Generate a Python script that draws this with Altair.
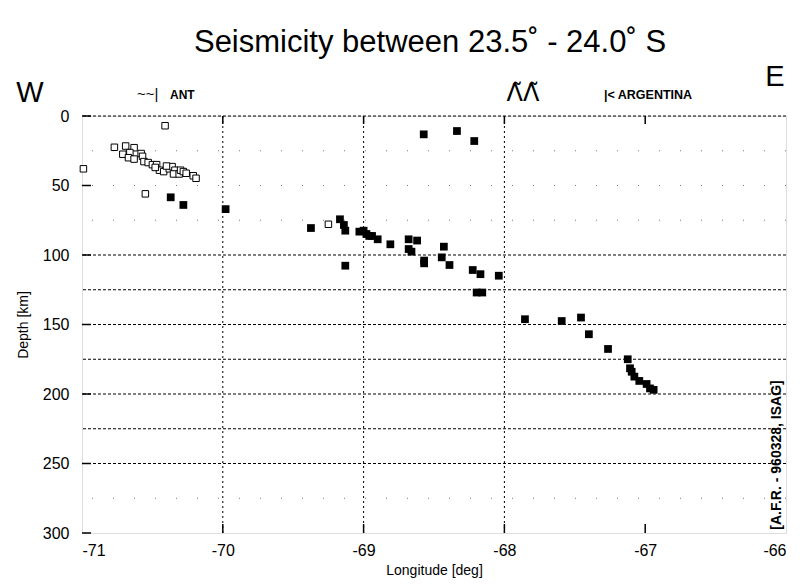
import altair as alt
import pandas as pd

# ---- data ----
open_lon = [-70.41, -70.77, -70.69, -70.63, -70.71, -70.66, -70.67, -70.63, -70.58, -70.57,
            -70.56, -70.53, -70.50, -70.47, -70.45, -70.42, -70.38, -70.36, -70.34, -70.35,
            -70.31, -70.30, -70.28, -70.26, -70.21, -70.19, -70.99, -70.55, -69.25, -70.48,
            -70.40]
open_depth = [7, 22.5, 21.6, 22.8, 27.5, 26.3, 30, 31, 27, 29,
              32.8, 33.5, 35, 35, 39, 40, 38, 36.4, 39, 41.7,
              41.7, 39, 40, 41.2, 43, 44.8, 38, 56, 77.9, 37,
              36]

filled_lon = [-70.37, -70.28, -69.98, -68.573, -68.337, -68.214, -69.374, -69.168, -69.14, -69.13,
              -69.13, -69.03, -69.00, -68.98, -68.96, -68.94, -68.90, -68.81, -68.68, -68.62,
              -68.68, -68.66, -68.57, -68.57, -68.43, -68.445, -68.39, -68.225, -68.17, -68.04,
              -68.197, -68.157, -67.854, -67.593, -67.456, -67.40, -67.264, -67.124, -67.108, -67.096,
              -67.077, -67.042, -66.99, -66.966, -66.94]
filled_depth = [58.5, 64, 67, 13.2, 10.8, 18, 80.6, 74.3, 78.4, 82.5,
                107.7, 83.2, 82.5, 84.9, 86.3, 86.3, 88.7, 92.3, 88.7, 89.6,
                95.7, 97.6, 104, 106, 94, 101.7, 107.2, 110.8, 113.8, 114.9,
                127, 127, 146.2, 147.5, 145, 157, 167.6, 175, 181.5, 184,
                187.5, 190.6, 192.8, 196, 197]

x_ticks = [-71, -70, -69, -68, -67, -66]
y_ticks = [0, 50, 100, 150, 200, 250, 300]
grid_full = [0, 100, 125, 150, 175, 200, 225, 250]
grid_sparse = [25, 50, 75, 275]
grid_vert = [-70, -69, -68]
inner_xticks = [-70, -69, -68, -67]

W, H = 704, 417
FONT = "Liberation Sans"

xs = alt.Scale(domain=[-71, -66], nice=False, zero=False)
ys = alt.Scale(domain=[0, 300], reverse=True, nice=False)

open_df = pd.DataFrame({"lon": open_lon, "depth": open_depth})
filled_df = pd.DataFrame({"lon": filled_lon, "depth": filled_depth})

base_x = alt.X("lon:Q", scale=xs, title="Longitude [deg]",
               axis=alt.Axis(values=x_ticks, labelExpr="datum.value + ''", grid=False,
                             ticks=False, domain=False, labelFontSize=16, labelPadding=9,
                             titleFontSize=14, titlePadding=5, titleFontWeight="normal",
                             labelFont=FONT, titleFont=FONT, labelColor="black", titleColor="black"))
base_y = alt.Y("depth:Q", scale=ys, title="Depth [km]",
               axis=alt.Axis(values=y_ticks, grid=False, ticks=False, domain=False,
                             labelFontSize=16, labelPadding=13, titleFontSize=14,
                             titlePadding=12, titleFontWeight="normal",
                             labelFont=FONT, titleFont=FONT, labelColor="black", titleColor="black"))

filled = alt.Chart(filled_df).mark_point(shape="square", filled=True, color="black",
                                         size=60, opacity=1).encode(x=base_x, y=base_y)
opened = alt.Chart(open_df).mark_point(shape="square", filled=True, fill="white",
                                       stroke="black", strokeWidth=1, size=42,
                                       opacity=1).encode(x=base_x, y=base_y)

gfull = alt.Chart(pd.DataFrame({"d": grid_full})).mark_rule(
    color="black", strokeWidth=1, strokeDash=[3, 2]).encode(
    y=alt.Y("d:Q", scale=ys))
gsparse = alt.Chart(pd.DataFrame({"d": grid_sparse})).mark_rule(
    color="#777", strokeWidth=1, strokeDash=[1, 20]).encode(
    y=alt.Y("d:Q", scale=ys))
gvert = alt.Chart(pd.DataFrame({"v": grid_vert})).mark_rule(
    color="black", strokeWidth=1, strokeDash=[2, 3]).encode(
    x=alt.X("v:Q", scale=xs))
ytick = alt.Chart(pd.DataFrame({"d": y_ticks})).mark_rule(
    color="black", strokeWidth=1.5).encode(
    y=alt.Y("d:Q", scale=ys), x=alt.value(0), x2=alt.value(9))
xtick = alt.Chart(pd.DataFrame({"v": inner_xticks})).mark_rule(
    color="black", strokeWidth=1.5).encode(
    x=alt.X("v:Q", scale=xs), y=alt.value(H), y2=alt.value(H - 9))
xtick_top = alt.Chart(pd.DataFrame({"v": inner_xticks})).mark_rule(
    color="black", strokeWidth=1.5).encode(
    x=alt.X("v:Q", scale=xs), y=alt.value(0), y2=alt.value(8))


def label(txt, x, y, size, weight="normal", align="center", angle=0, font=FONT):
    return alt.Chart(pd.DataFrame({"t": [txt]})).mark_text(
        font=font, fontSize=size, fontWeight=weight, align=align, baseline="alphabetic",
        color="black", angle=angle).encode(x=alt.value(x), y=alt.value(y), text="t:N")


title = label("Seismicity between 23.5˚ - 24.0˚ S", 348, -64, 31)
w_lab = label("W", -52, -14, 29)
e_lab = label("E", 693, -30, 29)
ant = label("~~|", 55, -17, 15, align="left")
ant2 = label("ANT", 88, -17, 12, weight="bold", align="left")
lam = label("Λ̃Λ̃", 441, -15, 24, font="DejaVu Sans")
arg = label("|< ARGENTINA", 522, -17, 12.5, weight="bold", align="left")
credit = label("[A.F.R. - 960328, ISAG]", 699, 339, 14, weight="bold", angle=270)

chart = alt.layer(
    gsparse, gfull, gvert, ytick, xtick, xtick_top, filled, opened,
    title, w_lab, e_lab, ant, ant2, lam, arg, credit
).properties(
    width=W, height=H,
    autosize=alt.AutoSizeParams(type="none"),
    padding={"left": 74, "top": 108, "right": 6, "bottom": 46},
).configure_view(stroke="black", strokeWidth=1.5).configure(background="white")

chart.save("out.html", embed_options={"renderer": "svg", "actions": False})
